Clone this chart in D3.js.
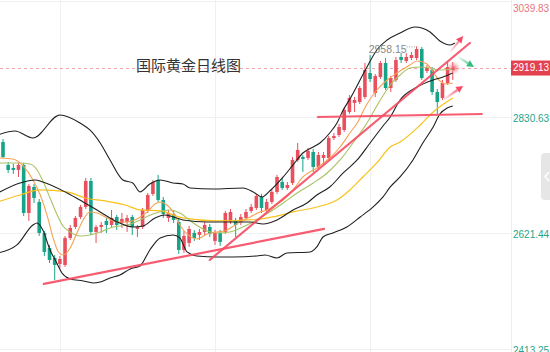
<!DOCTYPE html>
<html>
<head>
<meta charset="utf-8">
<script src="https://cdn.jsdelivr.net/npm/d3@7"></script>
<style>
html, body { margin: 0; padding: 0; background: #fff; overflow: hidden; }
svg { display: block; }
</style>
</head>
<body>
<div id="chart"></div>
<script>
// daily gold candles: [open, high, low, close]
const candles = [
    [2786.0, 2791.4, 2757.2, 2759.0], [2744.6, 2750.0, 2730.2, 2735.6], [2739.2, 2746.4, 2728.4, 2735.6],
    [2735.6, 2748.2, 2723.0, 2744.6], [2744.6, 2748.2, 2652.8, 2658.2], [2658.2, 2710.4, 2643.8, 2706.8],
    [2705.0, 2710.4, 2676.2, 2685.2], [2678.0, 2683.4, 2616.8, 2622.2], [2622.2, 2625.8, 2580.8, 2588.0],
    [2595.2, 2600.6, 2568.2, 2573.6], [2577.2, 2582.6, 2537.6, 2564.6], [2566.4, 2580.8, 2559.2, 2575.4],
    [2564.6, 2616.8, 2561.0, 2613.2], [2613.2, 2636.6, 2609.6, 2631.2], [2633.0, 2652.8, 2629.4, 2649.2],
    [2651.0, 2672.6, 2647.4, 2669.0], [2669.0, 2721.2, 2665.4, 2715.8], [2715.8, 2721.2, 2618.6, 2624.0],
    [2624.0, 2636.6, 2604.2, 2633.0], [2633.0, 2642.0, 2622.2, 2636.6], [2643.8, 2649.2, 2622.2, 2636.6],
    [2636.6, 2663.6, 2633.0, 2649.2], [2651.0, 2654.6, 2627.6, 2636.6], [2640.2, 2658.2, 2631.2, 2647.4],
    [2642.0, 2654.6, 2624.0, 2649.2], [2651.0, 2654.6, 2618.6, 2633.0], [2629.4, 2636.6, 2615.0, 2633.0],
    [2633.0, 2667.2, 2629.4, 2663.6], [2661.8, 2694.2, 2658.2, 2690.6], [2692.4, 2717.6, 2688.8, 2714.0],
    [2717.6, 2726.6, 2678.0, 2681.6], [2681.6, 2687.0, 2649.2, 2656.4], [2649.2, 2663.6, 2642.0, 2658.2],
    [2656.4, 2661.8, 2640.2, 2645.6], [2642.0, 2647.4, 2584.4, 2591.6], [2591.6, 2625.8, 2586.2, 2616.8],
    [2604.2, 2634.8, 2597.0, 2629.4], [2622.2, 2627.6, 2607.8, 2613.2], [2618.6, 2629.4, 2609.6, 2624.0],
    [2624.0, 2642.0, 2616.8, 2636.6], [2633.0, 2638.4, 2615.0, 2620.4], [2607.8, 2627.6, 2600.6, 2622.2],
    [2622.2, 2627.6, 2598.8, 2606.0], [2624.0, 2661.8, 2620.4, 2658.2], [2642.0, 2665.4, 2638.4, 2660.0],
    [2643.8, 2649.2, 2615.0, 2636.6], [2642.0, 2656.4, 2636.6, 2651.0], [2649.2, 2665.4, 2645.6, 2660.0],
    [2661.8, 2674.4, 2658.2, 2669.0], [2667.2, 2692.4, 2663.6, 2688.8], [2687.0, 2692.4, 2658.2, 2667.2],
    [2663.6, 2683.4, 2660.0, 2678.0], [2678.0, 2701.4, 2674.4, 2696.0], [2696.0, 2726.6, 2692.4, 2723.0],
    [2714.0, 2721.2, 2699.6, 2703.2], [2703.2, 2714.0, 2699.6, 2708.6], [2712.2, 2759.0, 2708.6, 2753.6],
    [2753.6, 2784.2, 2750.0, 2771.6], [2759.0, 2762.6, 2732.0, 2755.4], [2757.2, 2775.2, 2753.6, 2769.8],
    [2768.0, 2773.4, 2732.0, 2741.0], [2741.0, 2768.0, 2737.4, 2762.6], [2757.2, 2768.0, 2744.6, 2762.6],
    [2757.2, 2796.8, 2753.6, 2793.2], [2793.2, 2802.2, 2789.6, 2796.8], [2798.6, 2818.4, 2795.0, 2813.0],
    [2807.6, 2847.2, 2804.0, 2843.6], [2840.0, 2870.6, 2836.4, 2865.2], [2856.2, 2867.0, 2840.0, 2861.6],
    [2858.0, 2886.8, 2854.4, 2883.2], [2867.0, 2928.2, 2863.4, 2915.6], [2910.2, 2942.6, 2894.0, 2899.4],
    [2874.2, 2908.4, 2867.0, 2904.8], [2903.0, 2931.8, 2899.4, 2928.2], [2928.2, 2937.2, 2879.6, 2883.2],
    [2883.2, 2904.8, 2876.0, 2901.2], [2897.6, 2939.0, 2894.0, 2933.6], [2939.0, 2946.2, 2928.2, 2933.6],
    [2931.8, 2946.2, 2928.2, 2939.0], [2937.2, 2948.0, 2933.6, 2942.6], [2937.2, 2958.15, 2933.6, 2953.4],
    [2953.4, 2957.0, 2897.6, 2901.2], [2913.8, 2924.6, 2910.2, 2919.2], [2915.6, 2921.0, 2870.6, 2876.0],
    [2876.0, 2881.4, 2836.4, 2858.0], [2865.2, 2897.6, 2861.6, 2892.2], [2892.2, 2930.0, 2888.6, 2921.0],
    [2915.6, 2930.0, 2897.6, 2919.13]
];

// price axis
const priceTicks = [3039.83, 2830.63, 2621.44, 2413.25];
const lastPrice = 2919.13;
const highMark = [80, 2958.15];
const gridIdx = [11, 41, 71];

// bollinger bands and moving averages: [candle index, price]
const bollUpper = [[-1, 2798.6], [2.3, 2805.8], [5.8, 2793.2], [11, 2834.6], [14.9, 2820.2], [16.8, 2807.6],
    [18.8, 2784.2], [20.7, 2753.6], [23.2, 2717.6], [25.1, 2712.2], [26.5, 2696.0], [28.4, 2710.4],
    [30.4, 2717.6], [32.9, 2712.2], [34.8, 2710.4], [36.2, 2703.2], [40.6, 2701.4], [46.4, 2703.2],
    [48.4, 2696.0], [50.1, 2687.0], [51.6, 2697.8], [54.2, 2723.0], [56.1, 2744.6], [58.0, 2766.2],
    [60.0, 2777.0], [61.3, 2784.2], [63.2, 2802.2], [64.6, 2820.2], [65.8, 2843.6], [67.1, 2863.4],
    [70.4, 2921.0], [72.3, 2951.6], [74.3, 2969.6], [76.8, 2982.2], [79.7, 2993.0], [82.6, 2984.0],
    [84.5, 2967.8], [86.5, 2960.6], [87.4, 2964.2]];
const bollMid = [[-1, 2694.2], [3.3, 2712.2], [6.2, 2717.6], [7.7, 2714.0], [12.4, 2694.2], [15.5, 2678.0],
    [18.8, 2660.0], [22.1, 2642.0], [25.1, 2633.0], [27.1, 2634.8], [29.4, 2649.2], [31.3, 2654.6],
    [34.8, 2645.6], [39.5, 2642.0], [44.5, 2642.0], [47.8, 2642.0], [50.3, 2638.4], [53.0, 2645.6],
    [56.1, 2663.6], [58.8, 2676.2], [60.7, 2690.6], [63.2, 2705.0], [65.8, 2730.2], [68.5, 2753.6],
    [71.0, 2784.2], [73.5, 2814.8], [74.9, 2831.0], [76.8, 2861.6], [80.1, 2885.0], [83.2, 2897.6],
    [85.1, 2903.0], [87.0, 2910.2]];
const bollLower = [[-1, 2586.2], [2.7, 2600.6], [5.8, 2636.6], [6.6, 2640.2], [7.7, 2627.6], [9.1, 2591.6],
    [10.4, 2568.2], [11.4, 2550.2], [13.0, 2539.4], [15.5, 2535.8], [17.4, 2532.2], [18.8, 2534.0],
    [20.7, 2541.2], [22.6, 2546.6], [24.6, 2557.4], [26.5, 2562.8], [28.4, 2591.6], [30.4, 2613.2],
    [32.9, 2618.6], [34.2, 2613.2], [35.6, 2588.0], [37.5, 2580.8], [41.4, 2579.0], [44.5, 2579.0],
    [49.1, 2580.8], [50.7, 2582.6], [53.0, 2577.2], [54.9, 2586.2], [59.4, 2588.0], [60.7, 2597.0],
    [61.9, 2615.0], [63.8, 2622.2], [66.5, 2633.0], [69.1, 2651.0], [71.6, 2669.0], [73.5, 2687.0],
    [74.9, 2705.0], [76.8, 2723.0], [79.3, 2753.6], [81.2, 2784.2], [83.2, 2813.0], [84.5, 2836.4],
    [85.9, 2847.2], [87.0, 2850.8]];
const maSlow = [[-1, 2678.0], [3.3, 2690.6], [7.2, 2699.6], [12.4, 2696.0], [15.9, 2685.2], [19.7, 2679.8],
    [23.6, 2672.6], [26.5, 2663.6], [30.4, 2661.8], [34.8, 2649.2], [41.4, 2643.8], [47.8, 2645.6],
    [52.2, 2651.0], [56.1, 2660.0], [60.7, 2669.0], [64.6, 2681.6], [67.1, 2699.6], [69.6, 2723.0],
    [72.3, 2748.2], [74.9, 2777.0], [76.8, 2786.0], [80.7, 2816.6], [83.2, 2840.0], [85.5, 2856.2],
    [87.0, 2865.2]];
const ma5 = [[-1, 2757.2], [1.9, 2755.4], [3.9, 2742.8], [5.8, 2717.6], [7.2, 2690.6], [8.5, 2654.6],
    [9.7, 2613.2], [10.6, 2589.8], [11.6, 2582.6], [13.0, 2595.2], [14.3, 2622.2], [15.5, 2645.6],
    [16.8, 2660.0], [18.2, 2658.2], [20.1, 2649.2], [22.1, 2642.0], [24.0, 2642.0], [25.9, 2647.4],
    [27.9, 2660.0], [29.4, 2674.4], [30.4, 2678.0], [31.7, 2672.6], [32.9, 2660.0], [34.2, 2636.6],
    [35.6, 2620.4], [37.5, 2611.4], [39.5, 2620.4], [41.4, 2624.0], [42.9, 2625.8], [44.3, 2633.0],
    [45.8, 2642.0], [47.8, 2651.0], [49.7, 2660.0], [51.1, 2663.6], [52.6, 2672.6], [54.2, 2681.6],
    [56.1, 2699.6], [58.0, 2723.0], [60.7, 2739.2], [63.2, 2757.2], [65.2, 2777.0], [67.1, 2802.2],
    [68.5, 2820.2], [70.4, 2854.4], [72.3, 2879.6], [74.3, 2897.6], [76.2, 2910.2], [78.7, 2924.6],
    [80.1, 2931.8], [82.0, 2926.4], [83.2, 2912.0], [84.5, 2895.8], [85.9, 2890.4], [87.0, 2892.2]];
const ma10 = [[-1, 2748.2], [3.3, 2748.2], [5.2, 2746.4], [6.6, 2735.6], [7.7, 2715.8], [9.1, 2685.2],
    [10.4, 2656.4], [11.6, 2634.8], [13.0, 2624.0], [14.9, 2616.8], [16.8, 2618.6], [18.8, 2624.0],
    [21.3, 2633.0], [24.0, 2636.6], [26.5, 2645.6], [29.0, 2656.4], [32.3, 2663.6], [34.2, 2658.2],
    [36.8, 2640.2], [39.5, 2625.8], [41.4, 2622.2], [43.9, 2624.0], [46.4, 2633.0], [49.1, 2645.6],
    [51.6, 2660.0], [54.2, 2676.2], [56.9, 2694.2], [60.0, 2712.2], [62.7, 2730.2], [65.2, 2753.6],
    [67.7, 2784.2], [70.4, 2820.2], [72.3, 2850.8], [74.9, 2888.6], [76.8, 2906.6], [78.7, 2919.2],
    [80.7, 2921.0], [82.6, 2919.2], [84.5, 2915.6], [87.0, 2917.4]];

// hand-drawn trend lines and arrows: [[index, price], [index, price]]
const trendLines = [
    [[7.9, 2530.4], [62.1, 2629.4]],
    [[40.0, 2573.6], [90.3, 2964.2]],
    [[60.9, 2831.0], [92.6, 2836.4]]
];
const redArrows = [
    [[86.5, 2948.0], [89.0, 2977.0]],
    [[85.1, 2861.6], [89.0, 2886.8]]
];
const greenArrows = [
    [[88.0, 2939.0], [91.1, 2921.0]]
];

const width = 550, height = 352, plotRight = 511;
const red = "#e9505d", green = "#17a388";
const trendRed = "#f74a62";
const labelFont = "'Liberation Sans', Arial, sans-serif";

const svg = d3.select("#chart").append("svg")
    .attr("width", width)
    .attr("height", height);

const defs = svg.append("defs");
defs.append("clipPath").attr("id", "plotClip")
    .append("rect").attr("x", 0).attr("y", 0).attr("width", plotRight).attr("height", height);

const x = d3.scaleLinear().domain([0, 87]).range([3, 452.8]);
const y = d3.scaleLinear().domain([2413.25, 3039.83]).range([349, 1]);

// grid
const grid = svg.append("g");
grid.selectAll(".hgrid")
    .data(priceTicks)
    .join("line")
    .attr("x1", 0).attr("x2", plotRight)
    .attr("y1", d => Math.round(y(d)) + 0.5).attr("y2", d => Math.round(y(d)) + 0.5)
    .attr("stroke", "#f0f0f0");
grid.selectAll(".vgrid")
    .data(gridIdx)
    .join("line")
    .attr("x1", d => Math.round(x(d)) + 0.5).attr("x2", d => Math.round(x(d)) + 0.5)
    .attr("y1", 0).attr("y2", height)
    .attr("stroke", "#f0f0f0");
// right axis border
svg.append("line")
    .attr("x1", plotRight + 0.5).attr("x2", plotRight + 0.5)
    .attr("y1", 0).attr("y2", height)
    .attr("stroke", "#eeeeee");

const plot = svg.append("g").attr("clip-path", "url(#plotClip)");

// current price dashed line
plot.append("line")
    .attr("x1", 0).attr("x2", plotRight)
    .attr("y1", Math.round(y(lastPrice)) + 0.5).attr("y2", Math.round(y(lastPrice)) + 0.5)
    .attr("stroke", "#f3a3aa")
    .attr("stroke-dasharray", "3,3");

// title
svg.append("text")
    .attr("x", 136)
    .attr("y", 71)
    .attr("font-family", "'Noto Sans CJK SC', sans-serif")
    .attr("font-size", "15px")
    .attr("fill", "#333")
    .text("国际黄金日线图");

// candles
const bodyW = 3.6;
const candle = plot.selectAll(".candle")
    .data(candles)
    .join("g")
    .attr("class", "candle");
candle.append("line")
    .attr("x1", (d, i) => x(i)).attr("x2", (d, i) => x(i))
    .attr("y1", d => y(d[1])).attr("y2", d => y(d[2]))
    .attr("stroke", d => d[3] >= d[0] ? red : green)
    .attr("stroke-width", 1);
candle.append("rect")
    .attr("x", (d, i) => x(i) - bodyW / 2)
    .attr("y", d => y(Math.max(d[0], d[3])))
    .attr("width", bodyW)
    .attr("height", d => Math.max(1, Math.abs(y(d[0]) - y(d[3]))))
    .attr("fill", d => d[3] >= d[0] ? red : green);

// indicator lines
const line = d3.line()
    .x(d => x(d[0]))
    .y(d => y(d[1]))
    .curve(d3.curveMonotoneX);
const series = [
    { data: maSlow, color: "#f7c21c", w: 1.2 },
    { data: ma10, color: "#a9c263", w: 1.1 },
    { data: ma5, color: "#f6a255", w: 1.1 },
    { data: bollUpper, color: "#1f1f1f", w: 1.1 },
    { data: bollMid, color: "#1f1f1f", w: 1.1 },
    { data: bollLower, color: "#1f1f1f", w: 1.1 }
];
plot.selectAll(".ind")
    .data(series)
    .join("path")
    .attr("class", "ind")
    .attr("d", d => line(d.data))
    .attr("fill", "none")
    .attr("stroke", d => d.color)
    .attr("stroke-width", d => d.w);

// high price marker
plot.append("line")
    .attr("x1", x(highMark[0]) - 10).attr("x2", x(highMark[0]) - 1)
    .attr("y1", y(highMark[1]) + 0.5).attr("y2", y(highMark[1]) + 0.5)
    .attr("stroke", "#999")
    .attr("stroke-dasharray", "1,1.5");
plot.append("text")
    .attr("x", x(highMark[0]) - 10)
    .attr("y", y(highMark[1]) + 4)
    .attr("text-anchor", "end")
    .attr("dominant-baseline", "middle")
    .attr("font-family", labelFont)
    .attr("font-size", "10.5px")
    .attr("fill", "#8a8a8a")
    .text(highMark[1].toFixed(2));

// trend lines
plot.selectAll(".trend")
    .data(trendLines)
    .join("line")
    .attr("x1", d => x(d[0][0])).attr("y1", d => y(d[0][1]))
    .attr("x2", d => x(d[1][0])).attr("y2", d => y(d[1][1]))
    .attr("stroke", trendRed)
    .attr("stroke-opacity", 0.9)
    .attr("stroke-width", 2.2)
    .attr("stroke-linecap", "round");

// arrows with fading tails
function drawArrow(seg, color, id) {
    const x0 = x(seg[0][0]), y0 = y(seg[0][1]);
    const x1 = x(seg[1][0]), y1 = y(seg[1][1]);
    const g = defs.append("linearGradient")
        .attr("id", id)
        .attr("gradientUnits", "userSpaceOnUse")
        .attr("x1", x0).attr("y1", y0).attr("x2", x1).attr("y2", y1);
    g.append("stop").attr("offset", 0).attr("stop-color", color).attr("stop-opacity", 0.05);
    g.append("stop").attr("offset", 1).attr("stop-color", color).attr("stop-opacity", 1);
    const ang = Math.atan2(y1 - y0, x1 - x0);
    const len = 7, half = 3.5;
    const bx = x1 - len * Math.cos(ang), by = y1 - len * Math.sin(ang);
    plot.append("line")
        .attr("x1", x0).attr("y1", y0).attr("x2", bx).attr("y2", by)
        .attr("stroke", `url(#${id})`)
        .attr("stroke-width", 2.2);
    plot.append("path")
        .attr("d", `M${x1},${y1}L${bx - half * Math.sin(ang)},${by + half * Math.cos(ang)}` +
            `L${bx + half * Math.sin(ang)},${by - half * Math.cos(ang)}Z`)
        .attr("fill", color);
}
redArrows.forEach((a, i) => drawArrow(a, trendRed, "ra" + i));
greenArrows.forEach((a, i) => drawArrow(a, "#2fbf7a", "ga" + i));

// glow on last price
const glow = defs.append("radialGradient").attr("id", "glow");
glow.append("stop").attr("offset", 0).attr("stop-color", "#e9505d").attr("stop-opacity", 0.9);
glow.append("stop").attr("offset", 0.45).attr("stop-color", "#ef7a85").attr("stop-opacity", 0.45);
glow.append("stop").attr("offset", 1).attr("stop-color", "#f4a0a8").attr("stop-opacity", 0);
plot.append("circle")
    .attr("cx", x(candles.length - 1) + 1)
    .attr("cy", y(lastPrice))
    .attr("r", 7)
    .attr("fill", "url(#glow)");

// price axis labels
svg.selectAll(".plabel")
    .data(priceTicks)
    .join("text")
    .attr("x", 513)
    .attr("y", d => Math.max(y(d) + 2, 9))
    .attr("dominant-baseline", "middle")
    .attr("font-family", labelFont)
    .attr("font-size", "10px")
    .attr("fill", d => d > lastPrice ? "#e87580" : "#1fa58a")
    .text(d => d.toFixed(2));

// current price box
svg.append("rect")
    .attr("x", plotRight)
    .attr("y", y(lastPrice) - 7.5)
    .attr("width", width - plotRight)
    .attr("height", 15)
    .attr("fill", "#e4414f");
svg.append("text")
    .attr("x", 513)
    .attr("y", y(lastPrice) + 0.5)
    .attr("dominant-baseline", "middle")
    .attr("font-family", labelFont)
    .attr("font-size", "10px")
    .attr("fill", "#fff")
    .text(lastPrice.toFixed(2));

// side panel toggle
svg.append("rect")
    .attr("x", 541).attr("y", 153)
    .attr("width", 16).attr("height", 47)
    .attr("rx", 4)
    .attr("fill", "#e6e6e6");
svg.append("path")
    .attr("d", "M549,172L545,176.5L549,181")
    .attr("fill", "none")
    .attr("stroke", "#ffffff")
    .attr("stroke-width", 1.5);
</script>
</body>
</html>
